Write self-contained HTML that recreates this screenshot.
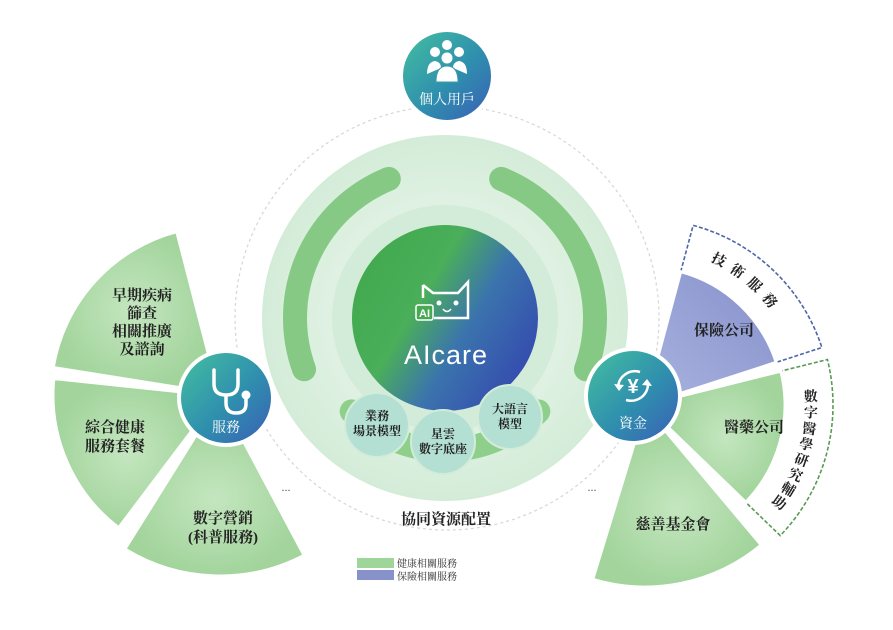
<!DOCTYPE html>
<html><head><meta charset="utf-8">
<style>
html,body{margin:0;padding:0;background:#fff;}
svg{display:block;font-family:"Liberation Serif","Noto Serif CJK SC","Noto Sans CJK TC",serif;}
</style></head>
<body>
<svg id="s" width="893" height="630" viewBox="0 0 893 630" xmlns="http://www.w3.org/2000/svg">
<defs>
<linearGradient id="node" x1="0" y1="0" x2="1" y2="1">
<stop offset="0" stop-color="#44bfa0"/><stop offset="0.55" stop-color="#2f8fae"/><stop offset="1" stop-color="#3a5fb6"/></linearGradient>
<linearGradient id="core" x1="0" y1="0" x2="1" y2="0.6">
<stop offset="0" stop-color="#3fa84a"/><stop offset="0.45" stop-color="#4aae5a"/><stop offset="0.7" stop-color="#3b74ad"/><stop offset="1" stop-color="#3550ae"/></linearGradient>
<radialGradient id="gw" cx="0.5" cy="0.5" r="0.5"><stop offset="0" stop-color="#c4e6bf"/><stop offset="1" stop-color="#a2d49c"/></radialGradient>
<linearGradient id="pw" x1="0" y1="1" x2="1" y2="0"><stop offset="0" stop-color="#a8b2de"/><stop offset="1" stop-color="#8590cb"/></linearGradient>
<radialGradient id="ring" cx="0.5" cy="0.5" r="0.5"><stop offset="0.5" stop-color="#e4f3e6"/><stop offset="1" stop-color="#d3ecd8"/></radialGradient>
</defs>
<g id="g"></g>
</svg>
<script>
const NS="http://www.w3.org/2000/svg",G=document.getElementById('g');
function el(t,a,txt){const e=document.createElementNS(NS,t);for(const k in a)e.setAttribute(k,a[k]);if(txt!==undefined)e.textContent=txt;G.appendChild(e);return e;}
function P(cx,cy,r,a){a=a*Math.PI/180;return[cx+r*Math.cos(a),cy+r*Math.sin(a)];}
function sector(cx,cy,r0,r1,a0,a1){const p1=P(cx,cy,r1,a0),p2=P(cx,cy,r1,a1),p3=P(cx,cy,r0,a1),p4=P(cx,cy,r0,a0);const lg=(a1-a0)>180?1:0;
return `M${p4} L${p1} A${r1} ${r1} 0 ${lg} 1 ${p2} L${p3} A${r0} ${r0} 0 ${lg} 0 ${p4}Z`;}
function arc(cx,cy,r,a0,a1){const p1=P(cx,cy,r,a0),p2=P(cx,cy,r,a1);return `M${p1} A${r} ${r} 0 0 1 ${p2}`;}
el('circle',{cx:447,cy:318,r:212,fill:'none',stroke:'#d6d6d6','stroke-width':1.2,'stroke-dasharray':'3 3'});
const L=[220,395];
el('path',{d:sector(L[0],L[1],30,170,-171,-104.5),fill:'url(#gw)',stroke:'#fff','stroke-width':5});
el('path',{d:sector(L[0],L[1],30,168,127,186),fill:'url(#gw)',stroke:'#fff','stroke-width':5});
el('path',{d:sector(L[0],L[1],30,182,62,122),fill:'url(#gw)',stroke:'#fff','stroke-width':5});
const R=[645,405];
el('path',{d:sector(R[0],R[1],30,186,-75,-18),fill:'#fff',stroke:'#4f66a8','stroke-width':1.6,'stroke-dasharray':'4 2'});
el('path',{d:sector(R[0],R[1],30,138,-75,-18),fill:'url(#pw)',stroke:'#fff','stroke-width':3});
el('path',{d:sector(R[0],R[1],30,188,-14,44),fill:'#fff',stroke:'#5a9a55','stroke-width':1.6,'stroke-dasharray':'4 2'});
el('path',{d:sector(R[0],R[1],30,140,-14,44),fill:'url(#gw)',stroke:'#fff','stroke-width':3});
el('path',{d:sector(R[0],R[1],30,183,50,107),fill:'url(#gw)',stroke:'#fff','stroke-width':5});
el('circle',{cx:445,cy:318,r:183,fill:'url(#ring)'});
el('circle',{cx:445,cy:318,r:113,fill:'#d3ecd9'});
el('path',{d:arc(445,318,150,160,248),fill:'none',stroke:'#86c985','stroke-width':24,'stroke-linecap':'round'});
el('path',{d:arc(445,318,150,-68,20),fill:'none',stroke:'#86c985','stroke-width':24,'stroke-linecap':'round'});
el('path',{d:arc(445,318,132,135,45).replace(' 0 0 1 ',' 0 0 0 '),fill:'none',stroke:'#8fcf8c','stroke-width':24,'stroke-linecap':'round'});
el('circle',{cx:445,cy:318,r:93,fill:'url(#core)'});
[[377,425],[443,442],[510,417]].forEach(c=>el('circle',{cx:c[0],cy:c[1],r:32,fill:'#b3e0d3',stroke:'#d3ecd9','stroke-width':2}));
const tx=(x,y,s,t,o={})=>el('text',Object.assign({x:x,y:y,'font-size':s,'text-anchor':'middle',fill:'#222','font-weight':'bold'},o),t);
tx(377,420,12,'業務');tx(377,435,12,'場景模型');
tx(443,438,12,'星雲');tx(443,453,12,'數字底座');
tx(510,413,12,'大語言');tx(510,428,12,'模型');
el('path',{d:'M423 285 L423 298 M423 285 L433 293 L458 293 L468 282 L468 318 L434 318',fill:'none',stroke:'#fff','stroke-width':2.5});
el('circle',{cx:439,cy:303,r:2.5,fill:'#fff'});el('circle',{cx:456,cy:303,r:2.5,fill:'#fff'});
el('path',{d:'M443 309 Q447 314 451 309',fill:'none',stroke:'#fff','stroke-width':1.6});
el('rect',{x:416,y:305,width:17,height:15,rx:2,fill:'#48a955',stroke:'#fff','stroke-width':1.5});
el('text',{x:424.5,y:317,'font-size':11,'text-anchor':'middle',fill:'#fff','font-family':'Liberation Sans','font-weight':'bold'},'AI');
el('text',{x:446,y:364,'font-size':27,'text-anchor':'middle',fill:'#fff','font-family':'Liberation Sans','letter-spacing':'1'},'AIcare');
function node(x,y,r){el('circle',{cx:x,cy:y,r:r+4,fill:'#fff'});el('circle',{cx:x,cy:y,r:r,fill:'url(#node)'});}
node(447,76,44);node(226,398,45);node(633,396,45);
[[435,52],[459,52],[447,45]].forEach(c=>{el('circle',{cx:c[0],cy:c[1],r:5,fill:'#fff'});});
el('path',{d:'M427 74 Q427 62 435 61 Q441 62 441 68 Z M453 68 Q453 62 459 61 Q467 62 467 74 Z',fill:'#fff'});
el('circle',{cx:447,cy:58,r:6,fill:'#fff',stroke:'#3a9fa8','stroke-width':1});
el('path',{d:'M436 82 Q436 66 447 66 Q458 66 458 82 Z',fill:'#fff',stroke:'#3a9fa8','stroke-width':1});
tx(447,104,14,'個人用戶',{fill:'#fff','font-weight':'normal'});
el('path',{d:'M214 370 L214 384 Q214 395 226 395 Q238 395 238 384 L238 370 M226 395 L226 403 Q226 413 236 413 Q246 413 246 404 L246 398',fill:'none',stroke:'#fff','stroke-width':3.5,'stroke-linecap':'round'});
el('circle',{cx:246,cy:395,r:4.5,fill:'#fff'});
tx(226,432,14,'服務',{fill:'#fff','font-weight':'normal'});
el('path',{d:'M618 388 A17 17 0 0 1 640 372 M648 382 A17 17 0 0 1 626 400',fill:'none',stroke:'#fff','stroke-width':2.5});
el('path',{d:'M614 384 L619 391 L624 385 Z M652 386 L647 379 L642 385 Z',fill:'#fff'});
el('text',{x:633,y:393,'font-size':20,'text-anchor':'middle',fill:'#fff','font-family':'Liberation Sans','font-weight':'bold'},'¥');
tx(633,428,14,'資金',{fill:'#fff','font-weight':'normal'});
tx(142,300,15,'早期疾病');tx(142,318,15,'篩查');tx(142,336,15,'相關推廣');tx(142,354,15,'及諮詢');
tx(115,432,15,'綜合健康');tx(115,451,15,'服務套餐');
tx(223,523,15,'數字營銷');tx(223,542,15,'(科普服務)');
tx(724,335,15,'保險公司');tx(754,432,15,'醫藥公司');tx(673,529,15,'慈善基金會');
function along(str,r,a0,a1,rotOff){const n=str.length;for(let i=0;i<n;i++){const a=a0+(a1-a0)*i/(n-1);const p=P(R[0],R[1],r,a);
el('text',{x:p[0],y:p[1]+5,'font-size':14,'text-anchor':'middle',fill:'#222','font-weight':'bold',transform:`rotate(${a+rotOff} ${p[0]} ${p[1]})`},str[i]);}}
along('技術服務',163,-63,-40,90);
along('數字醫學研究輔助',166,-3,36,0);
el('text',{x:286,y:491,'font-size':12,'text-anchor':'middle',fill:'#555'},'...');
el('text',{x:592,y:491,'font-size':12,'text-anchor':'middle',fill:'#555'},'...');
tx(446,524,15,'協同資源配置');
el('rect',{x:357,y:558,width:37,height:10,fill:'#9ed69a'});
el('rect',{x:357,y:570,width:37,height:10,fill:'#8792cb'});
el('text',{x:397,y:567,'font-size':10,fill:'#333'},'健康相關服務');
el('text',{x:397,y:580,'font-size':10,fill:'#333'},'保險相關服務');
</script>
</body></html>
